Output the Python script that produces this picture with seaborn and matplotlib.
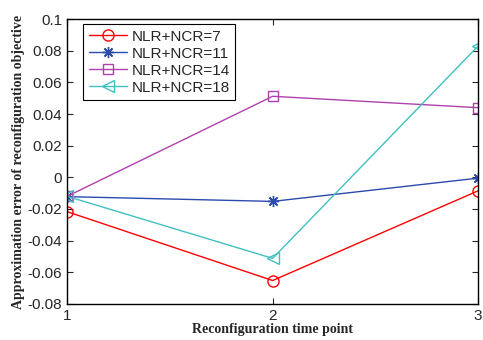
import matplotlib
matplotlib.use("Agg")
import matplotlib.pyplot as plt
import seaborn as sns
import pandas as pd

time_points = [1, 2, 3]
labels = ["NLR+NCR=7", "NLR+NCR=11", "NLR+NCR=14", "NLR+NCR=18"]
err_7 = [-0.0217, -0.0652, -0.0085]
err_11 = [-0.0122, -0.0152, -0.0005]
err_14 = [-0.0120, 0.0512, 0.0440]
err_18 = [-0.0120, -0.0512, 0.0830]

series = [err_7, err_11, err_14, err_18]
df = pd.DataFrame({
    "t": time_points * 4,
    "err": sum(series, []),
    "series": [l for l in labels for _ in time_points],
})

sns.set_style("ticks")
plt.rcParams['font.family'] = ['Liberation Sans', 'DejaVu Sans']

colors = ["#FF0000", "#2A4BAE", "#B040B0", "#40C0C0"]
markers = ["o", (8, 2, 0), "s", "<"]
sizes = [8, 8, 7, 8.5]

fig = plt.figure(figsize=(4.83, 3.4), dpi=100)
ax = fig.add_axes([0.139, 0.106, 0.851, 0.838])

for lab, col, mk, ms in zip(labels, colors, markers, sizes):
    sub = df[df["series"] == lab]
    sns.lineplot(data=sub, x="t", y="err", ax=ax, color=col, marker=mk,
                 markersize=ms, markerfacecolor="none",
                 markeredgecolor=col, markeredgewidth=1.0, linewidth=1.0,
                 label=lab)

ax.set_xlim(1, 3)
ax.set_ylim(-0.08, 0.1)
ax.set_xticks([1, 2, 3])
ax.set_yticks([-0.08, -0.06, -0.04, -0.02, 0, 0.02, 0.04, 0.06, 0.08, 0.1])
ax.set_yticklabels(["-0.08", "-0.06", "-0.04", "-0.02", "0", "0.02", "0.04", "0.06", "0.08", "0.1"])
ax.tick_params(direction="in", top=True, right=True, labelsize=11, length=4, width=0.8)
for s in ax.spines.values():
    s.set_linewidth(1.0)
    s.set_color("black")

ax.set_xlabel("Reconfiguration time point", fontfamily=["Liberation Serif"],
              fontweight="bold", fontsize=10, labelpad=0)
ax.set_ylabel("Approximation error of reconfiguration objective", fontfamily=["Liberation Serif"],
              fontweight="bold", fontsize=10, labelpad=2)

leg = ax.legend(loc="upper left", bbox_to_anchor=(0.039, 0.982), borderaxespad=0,
                fontsize=11, frameon=True, fancybox=False, edgecolor="black", framealpha=1,
                handlelength=2.5, borderpad=0.35, labelspacing=0.2, handletextpad=0.3)
leg.get_frame().set_linewidth(0.8)

fig.savefig("out.png", dpi=100)
